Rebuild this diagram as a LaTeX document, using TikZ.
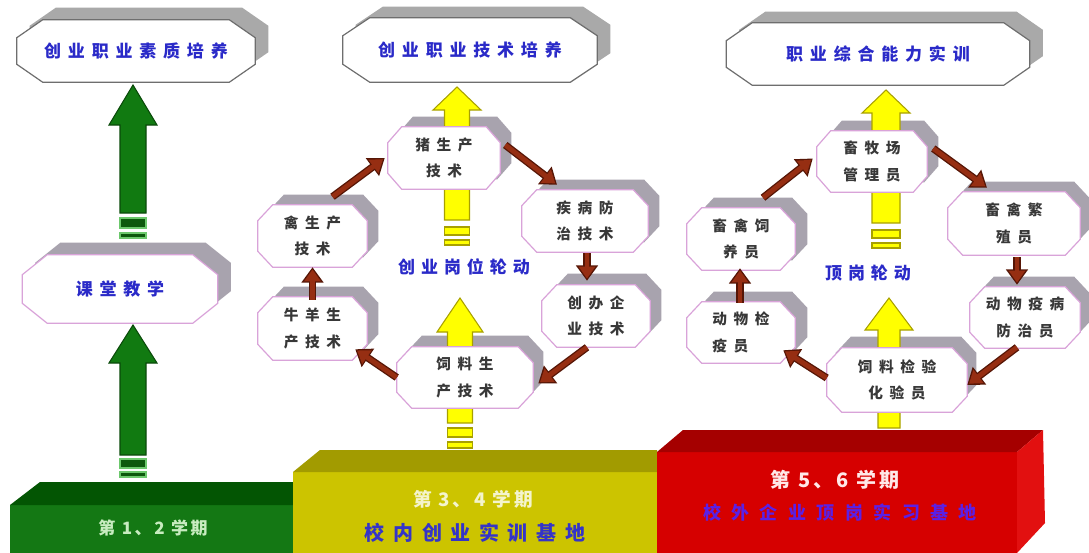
\documentclass[tikz,border=0pt]{standalone}
\usepackage{fontspec}
\usetikzlibrary{calc,arrows.meta}
\newfontfamily\cjkT[LetterSpace=40]{Noto Sans CJK SC}
\newfontfamily\cjkN[LetterSpace=45]{Noto Sans CJK SC}
\newfontfamily\cjkL[LetterSpace=35]{Noto Sans CJK SC}
\newfontfamily\cjkB[LetterSpace=43]{Noto Sans CJK SC}
\newfontfamily\cjkR[LetterSpace=58]{Noto Sans CJK SC}
\newfontfamily\cjkP[LetterSpace=15]{Noto Sans CJK SC}
\definecolor{blueT}{HTML}{2A2AC8}
\definecolor{txtN}{HTML}{383838}
\definecolor{bdN}{HTML}{D9A3D9}
\definecolor{bdT}{HTML}{6E6E6E}
\definecolor{shT}{HTML}{A9A9A9}
\definecolor{shN}{HTML}{A8A3AE}
\definecolor{gFront}{HTML}{147814}
\definecolor{gTop}{HTML}{035503}
\definecolor{gArr}{HTML}{117A11}
\definecolor{gArrD}{HTML}{0A4A0A}
\definecolor{gLine}{HTML}{6CC86C}
\definecolor{yFront}{HTML}{CCC400}
\definecolor{yTop}{HTML}{A29B00}
\definecolor{yArr}{HTML}{FFFF00}
\definecolor{yArrD}{HTML}{A8A000}
\definecolor{rFront}{HTML}{D60000}
\definecolor{rTop}{HTML}{A50000}
\definecolor{rSide}{HTML}{E21010}
\definecolor{brM}{HTML}{962E12}
\definecolor{brD}{HTML}{561606}
\definecolor{gTxt}{HTML}{C8ECC0}
\definecolor{yTxt}{HTML}{F4F4CC}
\definecolor{rTxt}{HTML}{FFE8E8}
\definecolor{bTxt}{HTML}{3434C8}
\definecolor{vTxt}{HTML}{5A20E6}
\pgfdeclarelayer{bg}\pgfdeclarelayer{mid}\pgfdeclarelayer{oct}
\pgfsetlayers{bg,mid,oct,main}
% octagon around node #1: chamfer #2 (x) #3 (y), offset #4 (x) #5 (y)
\newcommand\octpath[5]{%
 ($(#1.north west)+(#2+#4,#5)$) -- ($(#1.north east)+(-#2+#4,#5)$) --
 ($(#1.north east)+(#4,#3+#5)$) -- ($(#1.south east)+(#4,-#3+#5)$) --
 ($(#1.south east)+(-#2+#4,#5)$) -- ($(#1.south west)+(#2+#4,#5)$) --
 ($(#1.south west)+(#4,-#3+#5)$) -- ($(#1.north west)+(#4,#3+#5)$) -- cycle}
% block arrow: style, cx, tip, headbase, head half width, shaft half width, bottom
\newcommand\barrow[7]{%
 \filldraw[#1] (#2,#3) -- (#2+#5,#4) -- (#2+#6,#4) -- (#2+#6,#7) -- (#2-#6,#7) -- (#2-#6,#4) -- (#2-#5,#4) -- cycle;}
\newcommand\bstripe[5]{\filldraw[#1] (#2-#3,#4) rectangle (#2+#3,#5);}
\begin{document}
\begin{tikzpicture}[x=0.75pt,y=-0.75pt,
  tbox/.style 2 args={rectangle, inner sep=0pt, minimum width=#1*0.75pt, minimum height=#2*0.75pt,
     font=\cjkT\bfseries\fontsize{12.75pt}{15pt}\selectfont, text=blueT},
  cbox/.style 2 args={rectangle, inner sep=0pt, minimum width=#1*0.75pt, minimum height=#2*0.75pt,
     align=center, font=\cjkN\bfseries\fontsize{11pt}{20pt}\selectfont, text=txtN},
  lbl/.style={inner sep=0pt, font=\cjkL\bfseries\fontsize{12.75pt}{15pt}\selectfont, text=blueT},
  garrow/.style={fill=gArr, draw=gArrD, line width=0.8pt},
  gstripe/.style={fill=gArrD!70!gArr, draw=gLine, line width=0.8pt},
  yarrow/.style={fill=yArr, draw=yArrD, line width=0.8pt},
  brarr/.style={draw=brD, line width=5.6pt, -{Triangle[length=11.5pt,width=16pt]},
     postaction={draw=brM, line width=3.6pt, -{Triangle[length=9pt,width=12pt]}, shorten >=1.6pt}}
]
\useasboundingbox (0,0) rectangle (1089,553);
\begin{pgfonlayer}{bg}
\fill[white] (0,0) rectangle (1089,553);
\end{pgfonlayer}

% ---------- bottom blocks ----------
\fill[gFront] (10,505) rectangle (295,553);
\fill[gTop] (10,505) -- (40,482) -- (295,482) -- (295,505) -- cycle;
\fill[yFront] (293,472) rectangle (657,553);
\fill[yTop] (293,472) -- (320,450) -- (657,450) -- (657,472) -- cycle;
\fill[rFront] (657,452) rectangle (1017,553);
\fill[rTop] (657,452) -- (683,430) -- (1043,430) -- (1017,452) -- cycle;
\fill[rSide] (1017,452) -- (1043,430) -- (1045,523) -- (1017,553) -- cycle;

\node[font=\cjkP\bfseries\fontsize{12.75pt}{15pt}\selectfont, text=gTxt] (s12) at (153,528) {第 1、2 学期};
\node[font=\cjkP\bfseries\fontsize{14pt}{16pt}\selectfont, text=yTxt] (s34) at (473,499) {第 3、4 学期};
\node[font=\cjkB\bfseries\fontsize{15pt}{17pt}\selectfont, text=bTxt] (b34) at (475,533) {校内创业实训基地};
\node[font=\cjkP\bfseries\fontsize{15pt}{17pt}\selectfont, text=rTxt] (s56) at (835,480) {第 5、6 学期};
\node[font=\cjkR\bfseries\fontsize{13.5pt}{16pt}\selectfont, text=vTxt] (b56) at (840,513) {校外企业顶岗实习基地};

% ---------- boxes ----------
\node[tbox={238}{62}] (t1) at (136,51) {创业职业素质培养};
\node[tbox={254}{64}] (t2) at (470,50) {创业职业技术培养};
\node[tbox={303}{62}] (t3) at (878,54) {职业综合能力实训};
\node[tbox={195}{68}] (ke) at (120,289) {课堂教学};

\node[cbox={112}{62}] (zhu) at (444,158) {猪生产\\技术};
\node[cbox={109}{62}] (qin) at (312.5,236) {禽生产\\技术};
\node[cbox={109}{63}] (niu) at (312.5,328.5) {牛羊生\\产技术};
\node[cbox={126}{62}] (ji) at (585,221) {疾病防\\治技术};
\node[cbox={108}{62}] (cb) at (596,316) {创办企\\业技术};
\node[cbox={136}{61}] (sl1) at (465,377.5) {饲料生\\产技术};

\node[cbox={110}{61}] (mu) at (872,161.5) {畜牧场\\管理员};
\node[cbox={108}{62}] (xq) at (741,239) {畜禽饲\\养员};
\node[cbox={108}{61}, align=left] (jy) at (741,332.5) {动物检\\疫员};
\node[cbox={132}{63}] (fz) at (1014,223.5) {畜禽繁\\殖员};
\node[cbox={110}{61}] (yb) at (1025,317.5) {动物疫病\\防治员};
\node[cbox={140}{64}] (sl2) at (897,380) {饲料检验\\化验员};

\node[lbl] (L1) at (464,267) {创业岗位轮动};
\node[lbl] (L2) at (868,273) {顶岗轮动};

% shadows and octagon outlines
\foreach \n/\a/\b/\dx/\dy/\sc/\bc in {t1/26/18/13/-12/shT/bdT, t2/27/18/13/-11/shT/bdT, t3/26/18/13/-11/shT/bdT,
   ke/25/20/13/-12/shN/bdN,
   zhu/14/16/11/-10/shN/bdN, qin/15/16/11/-10/shN/bdN, niu/15/16/11/-10/shN/bdN,
   ji/15/16/11/-10/shN/bdN, cb/15/16/11/-11/shN/bdN, sl1/15/16/10/-11/shN/bdN,
   mu/14/16/11/-10/shN/bdN, xq/15/16/12/-10/shN/bdN, jy/15/16/12/-10/shN/bdN,
   fz/15/16/9/-10/shN/bdN, yb/15/16/9/-10/shN/bdN, sl2/15/16/9/-11/shN/bdN}{
  \begin{pgfonlayer}{bg}
  \fill[\sc] \octpath{\n}{\a}{\b}{\dx}{\dy};
  \end{pgfonlayer}
  \begin{pgfonlayer}{oct}
  \filldraw[fill=white, draw=\bc, line width=0.9pt] \octpath{\n}{\a}{\b}{0}{0};
  \end{pgfonlayer}
}

% ---------- green arrows ----------
\barrow{garrow}{133}{85}{125}{24}{13}{213}
\bstripe{gstripe}{133}{13}{218}{228}
\bstripe{gstripe}{133}{13}{233}{238}
\barrow{garrow}{133}{325}{363}{24}{13}{455}
\bstripe{gstripe}{133}{13}{459}{468}
\bstripe{gstripe}{133}{13}{472}{477}

% ---------- yellow arrows ----------
\begin{pgfonlayer}{mid}
\barrow{yarrow}{457}{87}{110}{24}{12.5}{220}
\bstripe{yarrow}{457}{12.5}{227}{235}
\bstripe{yarrow}{457}{12.5}{240}{245}
\barrow{yarrow}{460}{298}{332}{23}{12.5}{423}
\bstripe{yarrow}{460}{12.5}{428}{437}
\bstripe{yarrow}{460}{12.5}{442}{448}
\barrow{yarrow}{886}{90}{113}{24}{14}{223}
\bstripe{yarrow}{886}{14}{230}{238}
\bstripe{yarrow}{886}{14}{243}{248}
\barrow{yarrow}{889}{298}{330}{24}{11}{428}
\end{pgfonlayer}

% ---------- brown cycle arrows ----------
\draw[brarr] ($(qin.north)+(20,-8)$) -- ($(zhu.west)+(-3,0)$);
\draw[brarr] ($(zhu.east)+(5,-13)$) -- ($(ji.north)+(-28,-5)$);
\draw[brarr] ($(ji.south)+(2,1)$) -- ($(cb.north)+(-9,-4)$);
\draw[brarr] ($(cb.south)+(-9,0)$) -- ($(sl1.east)+(5,6)$);
\draw[brarr] (sl1.west) -- ($(niu.south east)+(-12,-11)$);
\draw[brarr] ($(niu.north)+(0,3)$) -- (qin.south);

\draw[brarr] ($(xq.north)+(22,-10)$) -- ($(mu.west)+(-4,-3)$);
\draw[brarr] ($(mu.east)+(6,-13)$) -- ($(fz.north)+(-27,-4)$);
\draw[brarr] ($(fz.south)+(3,2)$) -- ($(yb.north)+(-8,-2)$);
\draw[brarr] ($(yb.south)+(-8,-1)$) -- ($(sl2.east)+(0,5)$);
\draw[brarr] ($(sl2.west)+(0,-2)$) -- ($(jy.south east)+(-12,-13)$);
\draw[brarr] ($(jy.north)+(-1,1)$) -- ($(xq.south)+(-1,-2)$);
\end{tikzpicture}
\end{document}
